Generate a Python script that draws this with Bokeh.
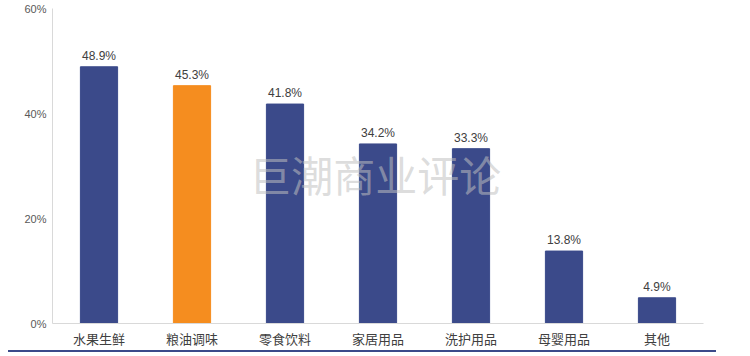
from bokeh.plotting import figure
from bokeh.models import ColumnDataSource, FixedTicker, PrintfTickFormatter, Label, Div, Range1d
from bokeh.layouts import column
from bokeh.core.properties import value
from bokeh.embed import file_html
from bokeh.resources import INLINE

categories = ["水果生鲜", "粮油调味", "零食饮料", "家居用品", "洗护用品", "母婴用品", "其他"]
shares = [48.9, 45.3, 41.8, 34.2, 33.3, 13.8, 4.9]
bar_colors = ["#3B4A8A", "#F58D1F", "#3B4A8A", "#3B4A8A", "#3B4A8A", "#3B4A8A", "#3B4A8A"]
value_labels = ["48.9%", "45.3%", "41.8%", "34.2%", "33.3%", "13.8%", "4.9%"]
y_ticks = [0, 20, 40, 60]

src = ColumnDataSource(dict(cat=categories, v=shares, c=bar_colors, lab=value_labels))

p = figure(x_range=categories, y_range=Range1d(0, 60), width=750, height=350,
           output_backend="svg", toolbar_location=None,
           min_border_left=52, min_border_right=47, min_border_top=8, min_border_bottom=26)
p.outline_line_color = None
p.xgrid.grid_line_color = None
p.ygrid.grid_line_color = None
p.x_range.range_padding = 0

p.vbar(x="cat", top="v", width=0.4, color="c", source=src)
p.text(x="cat", y="v", text="lab", source=src, y_offset=-4,
       text_align="center", text_baseline="bottom",
       text_font=value("Liberation Sans"), text_font_size="12px", text_color="#404040")

p.yaxis.ticker = FixedTicker(ticks=y_ticks)
p.yaxis.formatter = PrintfTickFormatter(format="%d%%")
for ax in (p.xaxis[0], p.yaxis[0]):
    ax.axis_line_color = "#D9D9D9"
    ax.major_tick_line_color = None
    ax.minor_tick_line_color = None
    ax.major_tick_out = 0
    ax.major_tick_in = 0
p.yaxis.major_label_text_font = "Liberation Sans"
p.yaxis.major_label_text_font_size = "11px"
p.yaxis.major_label_text_color = "#595959"
p.yaxis.major_label_standoff = 6
p.xaxis.major_label_text_font = "Noto Sans CJK SC"
p.xaxis.major_label_text_font_size = "13px"
p.xaxis.major_label_text_color = "#404040"
p.xaxis.major_label_standoff = 5

wm = Label(x=3.47, y=28.5, text="巨潮商业评论", text_align="center", text_baseline="middle",
           text_font="Noto Sans CJK SC", text_font_size="42px", text_color="#BFBFBF", text_alpha=0.55)
p.add_layout(wm)

bar = Div(width=708, height=2, margin=(0, 0, 0, 8),
          styles={"background-color": "#3B4A8A"})

layout = column(p, bar, spacing=0)
open("out.html", "w").write(file_html(layout, INLINE))
